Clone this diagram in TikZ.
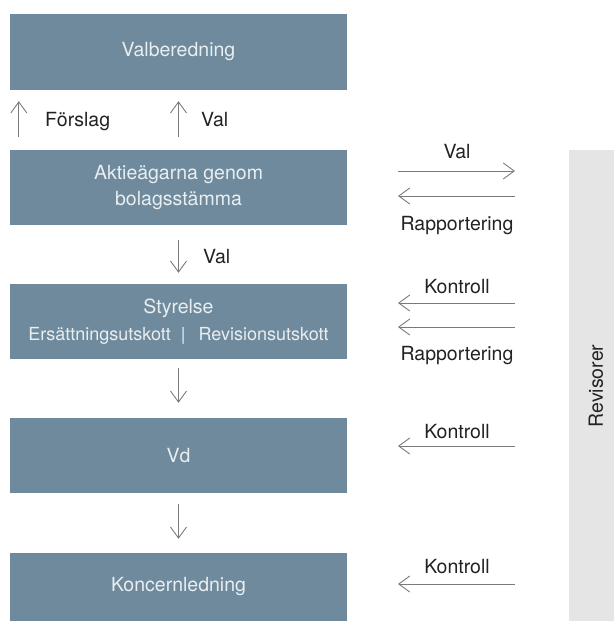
\documentclass[tikz,border=0pt]{standalone}
\usepackage{fontspec}
\setmainfont{TeX Gyre Heros}
\usetikzlibrary{arrows.meta}
\definecolor{boxblue}{HTML}{6E8A9C}
\definecolor{boxtext}{HTML}{E9EEF1}
\definecolor{revgray}{HTML}{E5E5E5}
\definecolor{linegray}{HTML}{7A7A7A}
\definecolor{labeltext}{HTML}{222222}
\begin{document}
\begin{tikzpicture}[x=1pt,y=-1pt,
  box/.style={fill=boxblue, draw=none, minimum width=337pt, inner sep=0pt,
    text=boxtext, align=center, font=\fontsize{19.5}{26.5}\selectfont},
  arr/.style={draw=linegray, line width=0.9pt,
    -{Straight Barb[length=11pt,width=16pt,line width=0.9pt]}},
  lbl/.style={text=labeltext, inner sep=0pt, font=\fontsize{19.5}{22}\selectfont},
  rlbl/.style={text=labeltext, inner sep=0pt, anchor=base, font=\fontsize{19.5}{22}\selectfont}
]
\useasboundingbox (0,0) rectangle (614,621);
% boxes
\node[box, minimum height=76pt] (valb) at (178.5,52) {Valberedning};
\node[box, minimum height=75pt] (aktie) at (178.5,187.5) {Aktieägarna genom\\bolagsstämma};
\node[box, minimum height=75pt] (styr) at (178.5,321.5)
  {Styrelse\\{\fontsize{18}{20}\selectfont Ersättningsutskott\hspace{10pt}|\hspace{13pt}Revisionsutskott}};
\node[box, minimum height=75pt] (vd) at (178.5,455.5) {Vd};
\node[box, minimum height=68pt] (kon) at (178.5,587) {Koncernledning};
% revisorer
\node[fill=revgray, minimum width=45pt, minimum height=471pt, inner sep=0pt] (rev) at (591.5,385.5) {};
\node[rotate=90, text=labeltext, font=\fontsize{19.5}{22}\selectfont] (revt) at (596,386) {Revisorer};
% vertical arrows
\draw[arr, shorten <=13pt, shorten >=11pt] ([xshift=9pt]aktie.north west) -- ([xshift=9pt]valb.south west);
\draw[arr, shorten <=13pt, shorten >=11pt] (aktie.north) -- (valb.south);
\draw[arr, shorten <=15pt, shorten >=11pt] (aktie.south) -- (styr.north);
\draw[arr, shorten <=9pt, shorten >=15pt] (styr.south) -- (vd.north);
\draw[arr, shorten <=11pt, shorten >=14pt] (vd.south) -- (kon.north);
\node[lbl, anchor=base west] (lforslag) at (45,126) {Förslag};
\node[lbl, anchor=base west] (lval1) at (201,126) {Val};
\node[lbl, anchor=base west] (lval2) at (203,263) {Val};
% right side arrows
\coordinate (a1l) at (398,171); \coordinate (a1r) at (515,171);
\coordinate (a2l) at (398,196); \coordinate (a2r) at (515,196);
\coordinate (a3l) at (398,303); \coordinate (a3r) at (515,303);
\coordinate (a4l) at (398,327); \coordinate (a4r) at (515,327);
\coordinate (a5l) at (398,446); \coordinate (a5r) at (515,446);
\coordinate (a6l) at (398,584); \coordinate (a6r) at (515,584);
\draw[arr] (a1l) -- (a1r);
\draw[arr] (a2r) -- (a2l);
\draw[arr] (a3r) -- (a3l);
\draw[arr] (a4r) -- (a4l);
\draw[arr] (a5r) -- (a5l);
\draw[arr] (a6r) -- (a6l);
\node[rlbl] (t1) at (457,158) {Val};
\node[rlbl] (t2) at (457,230) {Rapportering};
\node[rlbl] (t3) at (457,293) {Kontroll};
\node[rlbl] (t4) at (457,360) {Rapportering};
\node[rlbl] (t5) at (457,438) {Kontroll};
\node[rlbl] (t6) at (457,573) {Kontroll};
\end{tikzpicture}
\end{document}
